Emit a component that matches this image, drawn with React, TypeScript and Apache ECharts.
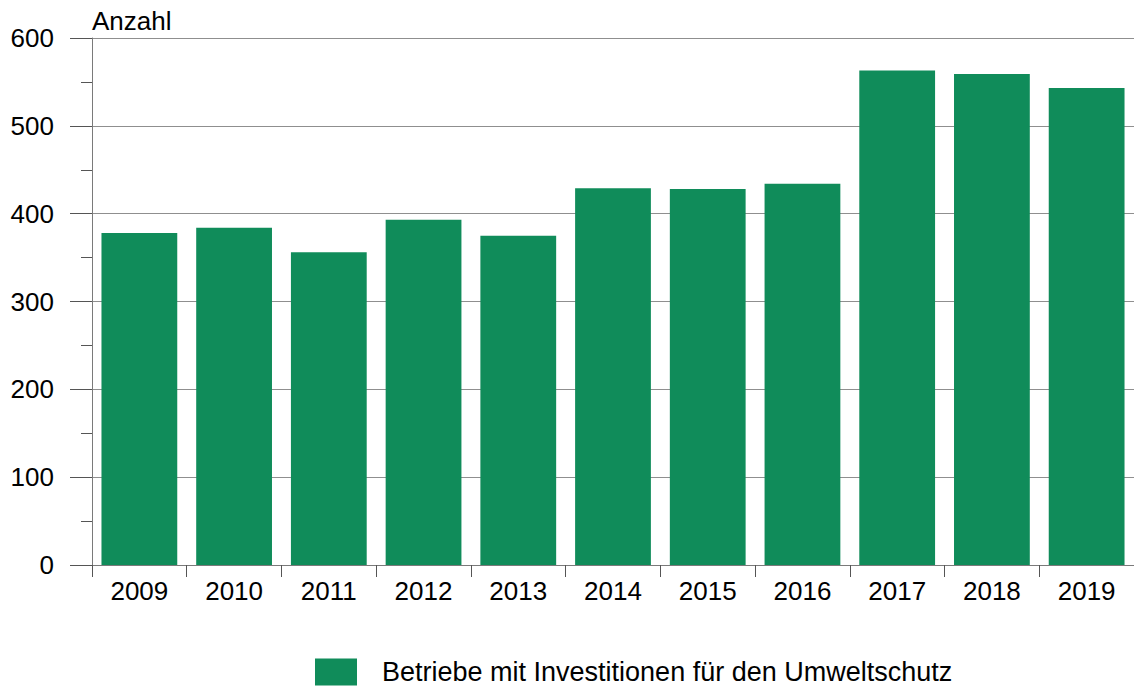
import React, { useEffect, useRef } from "react";
import * as echarts from "echarts";

const categories = ["2009", "2010", "2011", "2012", "2013", "2014", "2015", "2016", "2017", "2018", "2019"];
const betriebe = [378, 384, 356, 393, 375, 429, 428, 434, 563, 559, 543];
const seriesName = "Betriebe mit Investitionen für den Umweltschutz";
const axisName = "Anzahl";

const FONT = "'Liberation Sans', Arial, sans-serif";
const GREEN = "#108c5a";

export default function App() {
  const ref = useRef<HTMLDivElement>(null);
  useEffect(() => {
    const chart = echarts.init(ref.current!, null, { renderer: "svg" });
    chart.setOption({
      animation: false,
      textStyle: { fontFamily: FONT },
      grid: { left: 92, top: 38, width: 1044, height: 527, containLabel: false },
      legend: {
        data: [seriesName],
        left: 315,
        top: 658,
        itemWidth: 42,
        itemHeight: 27,
        itemGap: 10,
        icon: "rect",
        padding: 0,
        textStyle: {
          fontSize: 27,
          lineHeight: 28,
          color: "#000",
          fontFamily: FONT,
          padding: [0, 0, 0, 20],
        },
      },
      xAxis: {
        type: "category",
        data: categories,
        axisLine: { show: true, lineStyle: { color: "#7a7a7a", width: 1 } },
        axisTick: { show: true, length: 12, alignWithLabel: false, lineStyle: { color: "#555" } },
        axisLabel: { margin: 13, fontSize: 26, color: "#000", fontFamily: FONT },
        splitLine: { show: false },
      },
      yAxis: {
        type: "value",
        min: 0,
        max: 600,
        interval: 100,
        name: axisName,
        nameLocation: "end",
        nameGap: 4,
        nameTextStyle: { align: "left", verticalAlign: "bottom", fontSize: 26, color: "#000", fontFamily: FONT },
        axisLine: { show: true, lineStyle: { color: "#7a7a7a", width: 1 } },
        axisTick: { show: true, length: 22, lineStyle: { color: "#555" } },
        minorTick: { show: true, splitNumber: 2, length: 11, lineStyle: { color: "#555" } },
        axisLabel: { margin: 38, fontSize: 26, color: "#000", fontFamily: FONT },
        splitLine: { show: true, lineStyle: { color: "#8f8f8f", width: 1 } },
      },
      series: [
        {
          name: seriesName,
          type: "bar",
          data: betriebe,
          barCategoryGap: "20%",
          itemStyle: { color: GREEN },
        },
      ],
    });
    return () => chart.dispose();
  }, []);
  return (
    <div
      ref={ref}
      style={{ position: "fixed", left: 0, top: 0, width: 1134, height: 688, background: "#fff" }}
    />
  );
}
